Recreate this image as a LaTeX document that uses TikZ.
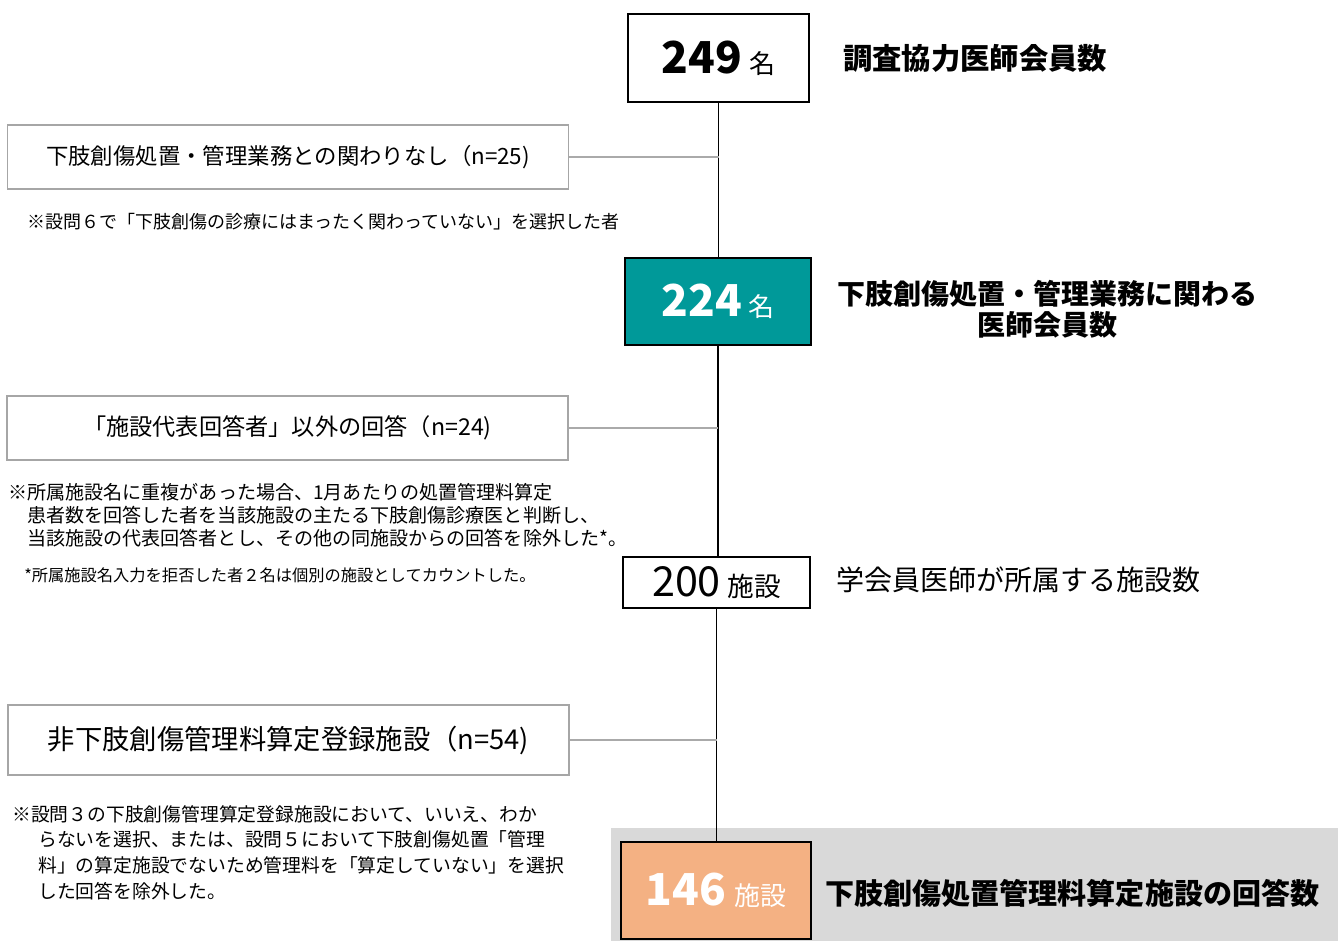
\documentclass[tikz,border=0pt]{standalone}
\usepackage{fontspec}
\setmainfont{Noto Sans CJK JP}
\definecolor{boxgray}{HTML}{A6A6A6}
\definecolor{linegray}{HTML}{AAAAAA}
\definecolor{tealbox}{HTML}{009999}
\definecolor{peach}{HTML}{F4B183}
\definecolor{bggray}{HTML}{D9D9D9}
\newcommand\numfont{\fontsize{33}{33}\selectfont\bfseries}
\newcommand\numlight{\fontsize{31}{31}\selectfont}
\newcommand\unitfont{\fontsize{19.5}{20}\selectfont\mdseries}
\begin{document}
\begin{tikzpicture}[x=0.75pt,y=-0.75pt,
  mainbox/.style={draw=black,line width=1.6pt,inner sep=0pt},
  sidebox/.style={draw=boxgray,line width=1.2pt,inner sep=0pt,minimum width=420.75pt},
  link/.style={draw=black,line width=0.8pt},
  sidelink/.style={draw=linegray,line width=0.9pt},
  note/.style={inner sep=0pt,align=left,anchor=west},
  label/.style={inner sep=0pt,anchor=west}]
\path[use as bounding box] (0,0) rectangle (1338,941);
\fill[bggray] (611,828) rectangle (1338,941);

% main boxes
\node[mainbox,fill=white,minimum width=135.75pt,minimum height=66pt] (b1) at (718.5,58)
  {{\numfont 249}\hspace{5pt}{\unitfont 名}};
\node[mainbox,fill=tealbox,text=white,minimum width=139.5pt,minimum height=65.25pt] (b2) at (718,301.5)
  {{\numfont 224}\hspace{5pt}{\unitfont 名}};
\node[mainbox,fill=white,minimum width=140.25pt,minimum height=38.25pt] (b3) at (716.5,582.5)
  {{\numlight 200}\hspace{5pt}{\fontsize{20}{20}\selectfont 施設}};
\node[mainbox,fill=peach,text=white,minimum width=142.5pt,minimum height=72.75pt] (b4) at (716,890.5)
  {{\numfont 146}\hspace{6pt}{\unitfont 施設}};

% right labels
\node[label,font=\fontsize{22}{22}\selectfont\bfseries] (t1) at (843,58) {調査協力医師会員数};
\node[inner sep=0pt,align=center,font=\fontsize{21}{23.5}\selectfont\bfseries] (t2) at (1047,309)
  {下肢創傷処置・管理業務に関わる\\医師会員数};
\node[label,font=\fontsize{21}{21}\selectfont] (t3) at (836,580) {学会員医師が所属する施設数};
\node[label,font=\fontsize{21.8}{22}\selectfont\bfseries] (t4) at (825,893) {下肢創傷処置管理料算定施設の回答数};

% side boxes
\node[sidebox,minimum height=48pt,font=\fontsize{16.8}{17}\selectfont] (s1) at (288,157)
  {下肢創傷処置・管理業務との関わりなし（n=25)};
\node[sidebox,minimum height=48pt,font=\fontsize{17.4}{18}\selectfont] (s2) at (287.5,428)
  {「施設代表回答者」以外の回答（n=24)};
\node[sidebox,minimum height=52.5pt,font=\fontsize{20.5}{21}\selectfont] (s3) at (288.5,740)
  {非下肢創傷管理料算定登録施設（n=54)};

% notes
\node[note,font=\fontsize{13.5}{14}\selectfont] (n1) at (27,222)
  {※設問６で「下肢創傷の診療にはまったく関わっていない」を選択した者};
\node[note,font=\fontsize{14.3}{17.25}\selectfont] (n2) at (8,515)
  {※所属施設名に重複があった場合、1月あたりの処置管理料算定\\
   \hspace*{14.25pt}患者数を回答した者を当該施設の主たる下肢創傷診療医と判断し、\\
   \hspace*{14.25pt}当該施設の代表回答者とし、その他の同施設からの回答を除外した*。};
\node[note,font=\fontsize{12.2}{13}\selectfont] (n3) at (24,575)
  {*所属施設名入力を拒否した者２名は個別の施設としてカウントした。};
\node[note,font=\fontsize{14.1}{19.3}\selectfont] (n4) at (12,852.5)
  {※設問３の下肢創傷管理算定登録施設において、いいえ、わか\\
   \hspace*{19.5pt}らないを選択、または、設問５において下肢創傷処置「管理\\
   \hspace*{19.5pt}料」の算定施設でないため管理料を「算定していない」を選択\\
   \hspace*{19.5pt}した回答を除外した。};

% connectors
\draw[link] (b1.south) -- (b1.south |- b2.north);
\draw[link] (b2.south) -- (b2.south |- b3.north);
\draw[link] (b3.south) -- (b3.south |- b4.north);
\coordinate (j1) at (b1.south |- s1.east);
\coordinate (j2) at (b2.south |- s2.east);
\coordinate (j3) at (b3.south |- s3.east);
\draw[sidelink] (s1.east) -- (j1);
\draw[sidelink] (s2.east) -- (j2);
\draw[sidelink] (s3.east) -- (j3);
\end{tikzpicture}
\end{document}
